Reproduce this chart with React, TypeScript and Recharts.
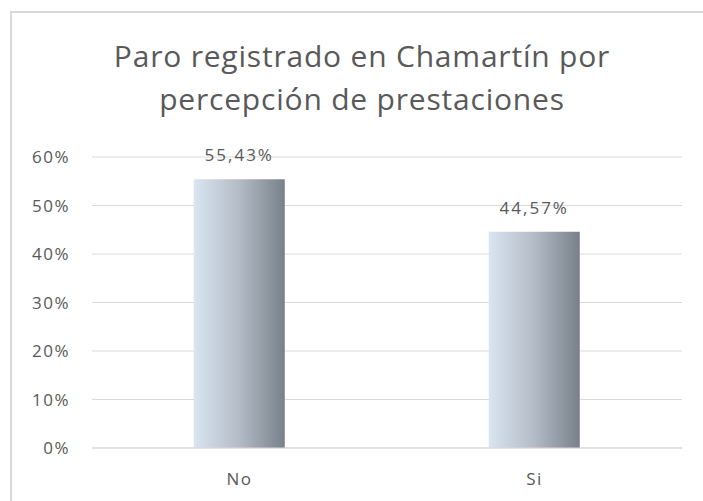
import React from "react";
import { BarChart, Bar, XAxis, YAxis, CartesianGrid, LabelList } from "recharts";

const categories = ["No", "Si"];
const shares = [55.43, 44.57];
const yTicks = [0, 10, 20, 30, 40, 50, 60];
const titleLines = ["Paro registrado en Chamartín por", "percepción de prestaciones"];

const data = categories.map((name, i) => ({ name, value: shares[i] }));

const textColor = "#595959";
const font = "'Open Sans', sans-serif";

const fmtPct = (v: number) => v.toFixed(2).replace(".", ",") + "%";

export default function App() {
  return (
    <div
      style={{
        position: "fixed",
        left: 0,
        top: 0,
        width: 703,
        height: 501,
        background: "#fff",
        overflow: "hidden",
        fontFamily: font,
      }}
    >
      {/* chart frame, runs off the right and bottom edges */}
      <div
        style={{
          position: "absolute",
          left: 10,
          top: 11,
          width: 720,
          height: 520,
          border: "2px solid #d9d9d9",
        }}
      />
      <div
        style={{
          position: "absolute",
          left: 12,
          width: 700,
          top: 34,
          textAlign: "center",
          color: textColor,
          fontSize: 30,
          letterSpacing: 0.8,
          lineHeight: "43px",
        }}
      >
        {titleLines.map((t) => (
          <div key={t}>{t}</div>
        ))}
      </div>
      <div style={{ position: "absolute", left: 0, top: 0 }}>
        <BarChart
          width={703}
          height={501}
          data={data}
          margin={{ top: 157, right: 21, bottom: 13, left: 0 }}
          barCategoryGap="34.5%"
        >
          <defs>
            <linearGradient id="barGrad" x1="0" y1="0" x2="1" y2="0">
              <stop offset="0%" stopColor="#d9e5f1" />
              <stop offset="50%" stopColor="#b3bbc6" />
              <stop offset="100%" stopColor="#78808a" />
            </linearGradient>
          </defs>
          <CartesianGrid vertical={false} stroke="#d9d9d9" strokeWidth={1} />
          <XAxis
            dataKey="name"
            height={40}
            axisLine={{ stroke: "#d9d9d9" }}
            tickLine={false}
            tickSize={0}
            tickMargin={25}
            tick={{ fill: textColor, fontSize: 17, fontFamily: font, letterSpacing: 1.5 }}
          />
          <YAxis
            width={92}
            domain={[0, 60]}
            ticks={yTicks}
            tickFormatter={(v: number) => v + "%"}
            axisLine={false}
            tickLine={false}
            tickSize={0}
            tickMargin={22}
            tick={{ fill: textColor, fontSize: 17, fontFamily: font, letterSpacing: 1.5 }}
          />
          <Bar dataKey="value" fill="url(#barGrad)" isAnimationActive={false}>
            <LabelList
              dataKey="value"
              position="top"
              offset={18}
              formatter={(v: number) => fmtPct(v)}
              style={{ fill: textColor, fontSize: 17, fontFamily: font, letterSpacing: 2 }}
            />
          </Bar>
        </BarChart>
      </div>
    </div>
  );
}
